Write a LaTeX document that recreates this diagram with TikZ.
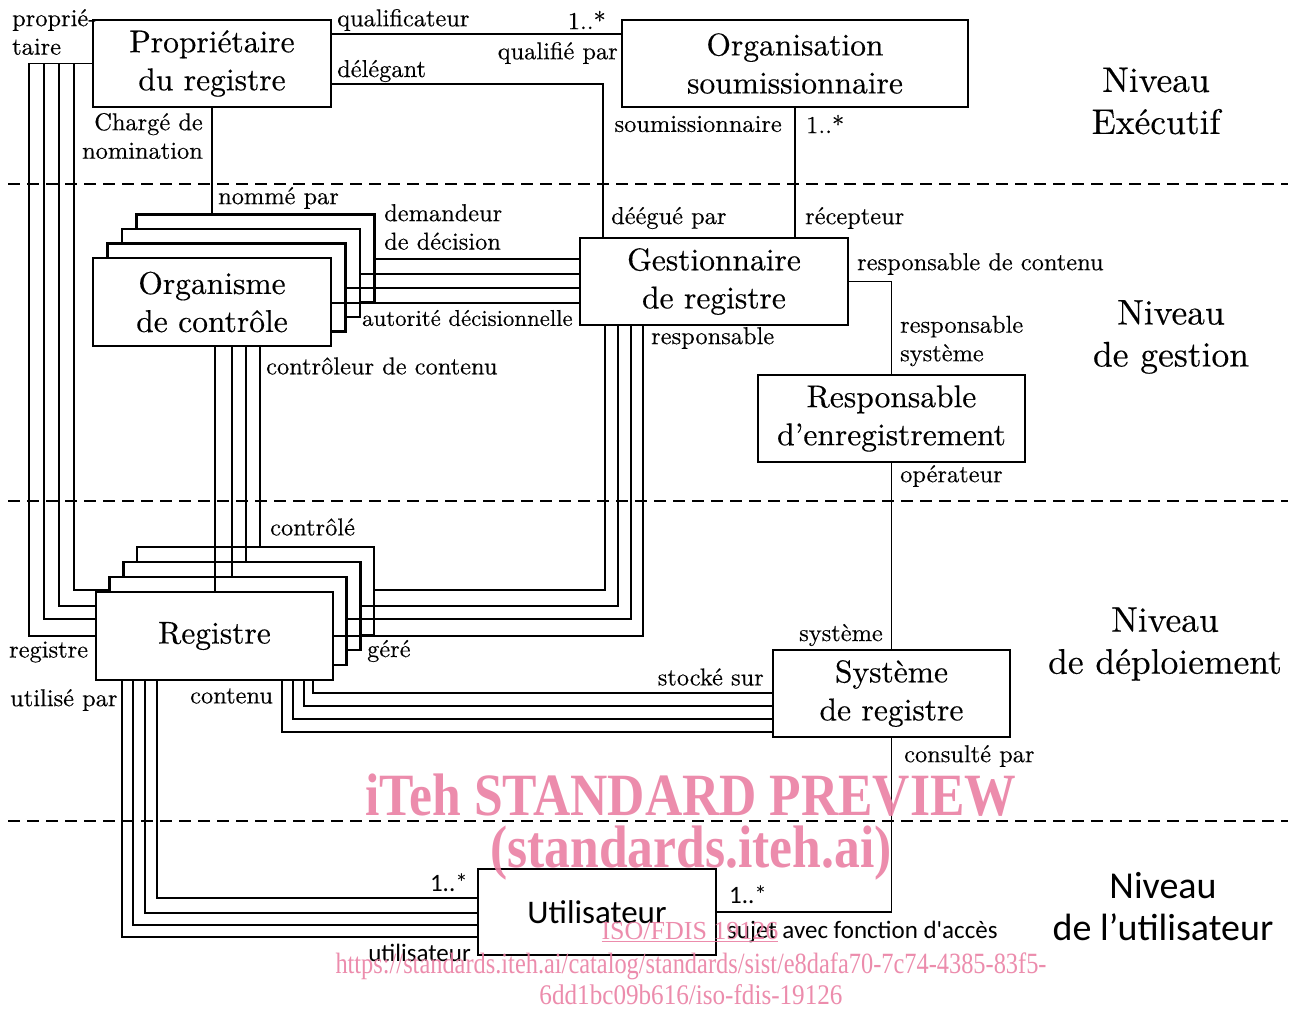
\documentclass[tikz,border=0pt]{standalone}
\usepackage{fontspec}
\setmainfont{lmroman10-regular.otf}[FakeBold=0.35]
\newfontfamily\calfont{Carlito}
\newfontfamily\wmfont{Liberation Serif}
\newcommand\boxfont{\fontsize{31.5}{38}\selectfont}
\newcommand\lblfont{\fontsize{24.4}{28.5}\selectfont}
\newcommand\lvlfont{\fontsize{35.5}{42}\selectfont}
\definecolor{wm}{RGB}{234,128,164}
\begin{document}
\begin{tikzpicture}[x=1pt,y=-1pt,
  box/.style={draw, line width=2.5pt, fill=white, inner sep=0pt, minimum width=238pt, minimum height=87pt, align=center, font=\boxfont},
  conn/.style={line width=1.2pt},
  lbl/.style={inner sep=0pt, font=\lblfont},
  clbl/.style={inner sep=0pt, font=\calfont\fontsize{25}{30}\selectfont},
  lvl/.style={inner sep=0pt, align=center, font=\lvlfont},
  levelline/.style={line width=1.3pt, dash pattern=on 12pt off 7pt},
  wmark/.style={inner sep=0pt, text=wm, opacity=0.9}
]
\useasboundingbox (0,0) rectangle (1294,1010);
\fill[white] (0,0) rectangle (1294,1010);

% level separators
\draw[levelline] (8,184) -- (1288,184);
\draw[levelline] (8,501) -- (1288,501);
\draw[levelline] (8,821) -- (1288,821);

% boxes
\node[box] (prop) at (212,63.5) {Propriétaire\\du registre};
\node[box, minimum width=346pt] (org) at (795,63.5) {Organisation\\soumissionnaire};
\node[box, minimum width=268pt] (gest) at (714,281.5) {Gestionnaire\\de registre};
\node[box, minimum width=267pt] (resp) at (891.5,418.5) {Responsable\\d’enregistrement};
\node[box, minimum width=237pt] (sys) at (891.5,693.5) {Système\\de registre};
\node[box, minimum height=86pt, font=\calfont\fontsize{33}{38}\selectfont] (util) at (597,912) {Utilisateur};

\foreach \i/\n in {3/oc4,2/oc3,1/oc2}
  \node[box, minimum height=88pt] (\n) at ({212+14.5*\i},{302-14.5*\i}) {};
\node[box, minimum height=88pt] (oc1) at (212,302) {Organisme\\de contrôle};

\foreach \i/\n in {3/reg4,2/reg3,1/reg2}
  \node[box, minimum width=237pt, minimum height=88pt] (\n) at ({214.5+13.7*\i},{636-15*\i}) {};
\node[box, minimum width=237pt, minimum height=88pt] (reg1) at (214.5,636) {Registre};

% connectors
\draw[conn] (prop.east |- 0,34) -- (org.west |- 0,34);
\draw[conn] (prop.east |- 0,84) -| (gest.north -| 603,0);
\draw[conn] (prop.south) -- (prop.south |- oc4.north);
\draw[conn] (org.south) -- (org.south |- gest.north);

\draw[conn] (prop.west) -| (29,636) -- (reg1.west |- 0,636);
\draw[conn] (prop.west) -| (44,619) -- (reg1.west |- 0,619);
\draw[conn] (prop.west) -| (59,606) -- (reg1.west |- 0,606);
\draw[conn] (prop.west) -| (74,590) -- (reg2.west |- 0,590);

\draw[conn] (oc4.east |- 0,259) -- (gest.west |- 0,259);
\draw[conn] (oc3.east |- 0,274) -- (gest.west |- 0,274);
\draw[conn] (oc2.east |- 0,288) -- (gest.west |- 0,288);
\draw[conn] (oc1.east |- 0,303) -- (gest.west |- 0,303);

\draw[conn] (oc1.south -| 215,0) -- (reg1.north -| 215,0);
\draw[conn] (oc1.south -| 232,0) -- (reg2.north -| 232,0);
\draw[conn] (oc1.south -| 246,0) -- (reg3.north -| 246,0);
\draw[conn] (oc1.south -| 260,0) -- (reg4.north -| 260,0);

\draw[conn] (gest.south -| 605,0) |- (reg4.east |- 0,590);
\draw[conn] (gest.south -| 618,0) |- (reg3.east |- 0,606);
\draw[conn] (gest.south -| 631,0) |- (reg2.east |- 0,619);
\draw[conn] (gest.south -| 643,0) |- (reg1.east |- 0,636);

\draw[conn] (reg1.south -| 313,0) |- (sys.west |- 0,693);
\draw[conn] (reg1.south -| 304,0) |- (sys.west |- 0,706);
\draw[conn] (reg1.south -| 293,0) |- (sys.west |- 0,719);
\draw[conn] (reg1.south -| 282,0) |- (sys.west |- 0,732);

\draw[conn] (reg1.south -| 157,0) |- (util.west |- 0,898);
\draw[conn] (reg1.south -| 145,0) |- (util.west |- 0,913);
\draw[conn] (reg1.south -| 133,0) |- (util.west |- 0,925);
\draw[conn] (reg1.south -| 122,0) |- (util.west |- 0,937);

\draw[conn] (gest.east) -| (resp.north);
\draw[conn] (resp.south) -- (sys.north);
\draw[conn] (sys.south) |- (util.east);

% labels
\node[lbl, align=left, anchor=west] (t1) at (12,32) {proprié-\\taire};
\node[lbl, anchor=west] (t2) at (337,20) {qualificateur};
\node[lbl, anchor=east] (t3) at (606,20) {1..*};
\node[lbl, anchor=east] (t4) at (618,53) {qualifié par};
\node[lbl, anchor=west] (t5) at (337,71) {délégant};
\node[lbl, align=right, anchor=east] (t6) at (203,136) {Chargé de\\nomination};
\node[lbl, anchor=west] (t7) at (218,198) {nommé par};
\node[lbl, anchor=east] (t8) at (782,124) {soumissionnaire};
\node[lbl, anchor=west] (t9) at (806,124) {1..*};
\node[lbl, anchor=west] (t10) at (611,218) {déégué par};
\node[lbl, anchor=west] (t11) at (805,218) {récepteur};
\node[lbl, align=left, anchor=west] (t12) at (384,227) {demandeur\\de décision};
\node[lbl, anchor=west, font=\fontsize{22.8}{27}\selectfont] (t13) at (362,318) {autorité décisionnelle};
\node[lbl, anchor=west] (t14) at (857,264) {responsable de contenu};
\node[lbl, anchor=west] (t15) at (651,338) {responsable};
\node[lbl, align=left, anchor=west] (t16) at (900,341) {responsable\\système};
\node[lbl, anchor=west] (t17) at (266,366) {contrôleur de contenu};
\node[lbl, anchor=west] (t18) at (900,476) {opérateur};
\node[lbl, anchor=west] (t19) at (270,527) {contrôlé};
\node[lbl, anchor=west] (t20) at (9,652) {registre};
\node[lbl, anchor=west] (t21) at (367,651) {géré};
\node[lbl, anchor=east] (t22) at (883,635) {système};
\node[lbl, anchor=east] (t23) at (764,677) {stocké sur};
\node[lbl, anchor=west] (t24) at (10,700) {utilisé par};
\node[lbl, anchor=west] (t25) at (190,696) {contenu};
\node[lbl, anchor=west] (t26) at (904,756) {consulté par};
\node[clbl, anchor=east] (t27) at (468,883) {1..*};
\node[clbl, anchor=west] (t28) at (729,895) {1..*};
\node[clbl, anchor=west] (t29) at (727,932) {sujet avec fonction d'accès};
\node[clbl, anchor=east] (t30) at (471,953) {utilisateur};

% levels
\node[lvl] (n1) at (1156,101) {Niveau\\Exécutif};
\node[lvl] (n2) at (1171,337) {Niveau\\de gestion};
\node[lvl] (n3) at (1165,644) {Niveau\\de déploiement};
\node[lvl, font=\calfont\fontsize{38}{42}\selectfont] (n4) at (1163,907) {Niveau\\de l’utilisateur};

% watermark
\node[wmark, font=\wmfont\bfseries\fontsize{60}{60}\selectfont] (w1) at (691,795) {\scalebox{0.86}[1]{iTeh STANDARD PREVIEW}};
\node[wmark, font=\wmfont\bfseries\fontsize{60}{60}\selectfont] (w2) at (691,853) {\scalebox{0.86}[1]{(standards.iteh.ai)}};
\node[wmark, font=\wmfont\fontsize{26}{26}\selectfont] (w3) at (690,932) {\underline{ISO/FDIS 19126}};
\node[wmark, font=\wmfont\fontsize{26}{26}\selectfont] (w4) at (691,966) {\resizebox{711pt}{!}{\scalebox{0.83}[1]{https://standards.iteh.ai/catalog/standards/sist/e8dafa70-7c74-4385-83f5-}}};
\node[wmark, font=\wmfont\fontsize{26}{26}\selectfont] (w5) at (691,995) {\resizebox{303pt}{20pt}{6dd1bc09b616/iso-fdis-19126}};
\end{tikzpicture}
\end{document}
